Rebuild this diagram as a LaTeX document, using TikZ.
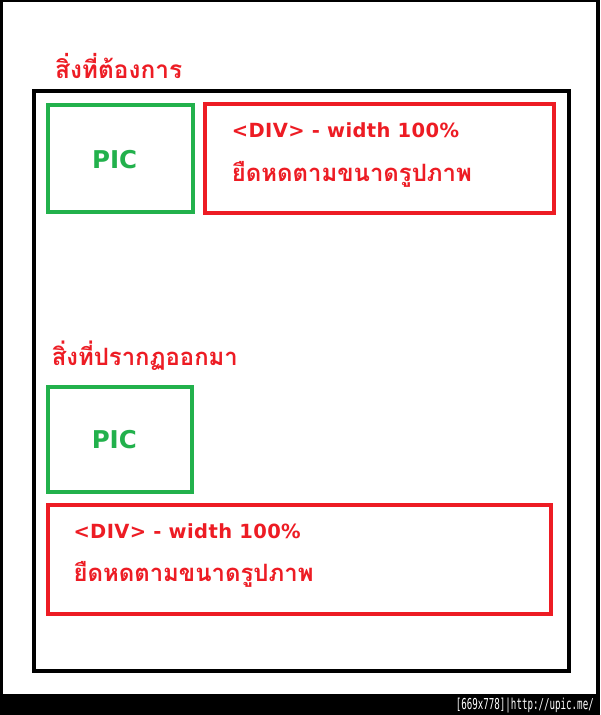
\documentclass[tikz,border=0pt]{standalone}
\usepackage{fontspec}
\newfontfamily\thaifont[Script=Thai]{Loma}
\newfontfamily\divfont[LetterSpace=2]{DejaVu Sans}
\newfontfamily\picfont{DejaVu Sans}
\newfontfamily\stripfont{DejaVu Sans Mono}
\definecolor{pred}{RGB}{237,28,36}
\definecolor{pgreen}{RGB}{34,177,76}
\tikzset{
  redbox/.style={draw=pred, line width=4pt, inner sep=0pt},
  greenbox/.style={draw=pgreen, line width=4pt, inner sep=0pt},
  mainframe/.style={draw=black, line width=4pt, inner sep=0pt},
  divtext/.style={anchor=base west, inner sep=0pt, text=pred, font=\divfont\bfseries\fontsize{19.5}{21}\selectfont},
  thaitext/.style={anchor=base west, inner sep=0pt, text=pred, font=\thaifont\bfseries},
  pictext/.style={anchor=base, inner sep=0pt, text=pgreen, font=\picfont\bfseries\fontsize{24.5}{26}\selectfont},
}
\begin{document}
\begin{tikzpicture}[x=1pt,y=-1pt]
\useasboundingbox (0,0) rectangle (600,715);
\fill[white] (0,0) rectangle (600,715);
% screenshot frame and strip
\fill[black] (0,0) rectangle (2.5,694);
\fill[black] (596,0) rectangle (600,694);
\fill[black] (0,0) rectangle (600,2);
\fill[black] (0,694) rectangle (600,715);
\node[anchor=base east, inner sep=0pt, text=white, font=\stripfont] (strip) at (594,709)
  {\resizebox{138pt}{11.5pt}{[669x778]|http://upic.me/}};
% main frame
\node[mainframe, minimum width=535pt, minimum height=580pt] (frame) at (301.5,381) {};
% titles
\node[thaitext] (t1) at (55,78) {\resizebox{127pt}{!}{สิ่งที่ต้องการ}};
\node[thaitext] (t2) at (51.7,365) {\resizebox{186pt}{!}{สิ่งที่ปรากฏออกมา}};
% top row
\node[greenbox, minimum width=145pt, minimum height=107pt] (pic1) at (120.5,158.5) {};
\node[pictext] (pic1t) at (114.7,168.3) {PIC};
\node[redbox, minimum width=349pt, minimum height=109pt] (div1) at (379.5,158.5) {};
\node[divtext] (div1a) at (231.7,137.3) {<DIV> - width 100\%};
\node[thaitext] (div1b) at (231.7,181.7) {\resizebox{240pt}{!}{ยืดหดตามขนาดรูปภาพ}};
% bottom row
\node[greenbox, minimum width=144pt, minimum height=105.3pt] (pic2) at (120,439.3) {};
\node[pictext] (pic2t) at (114.3,448.3) {PIC};
\node[redbox, minimum width=503pt, minimum height=109pt] (div2) at (299.5,559.5) {};
\node[divtext] (div2a) at (73.3,538.3) {<DIV> - width 100\%};
\node[thaitext] (div2b) at (73.3,581.7) {\resizebox{240pt}{!}{ยืดหดตามขนาดรูปภาพ}};
\end{tikzpicture}
\end{document}
